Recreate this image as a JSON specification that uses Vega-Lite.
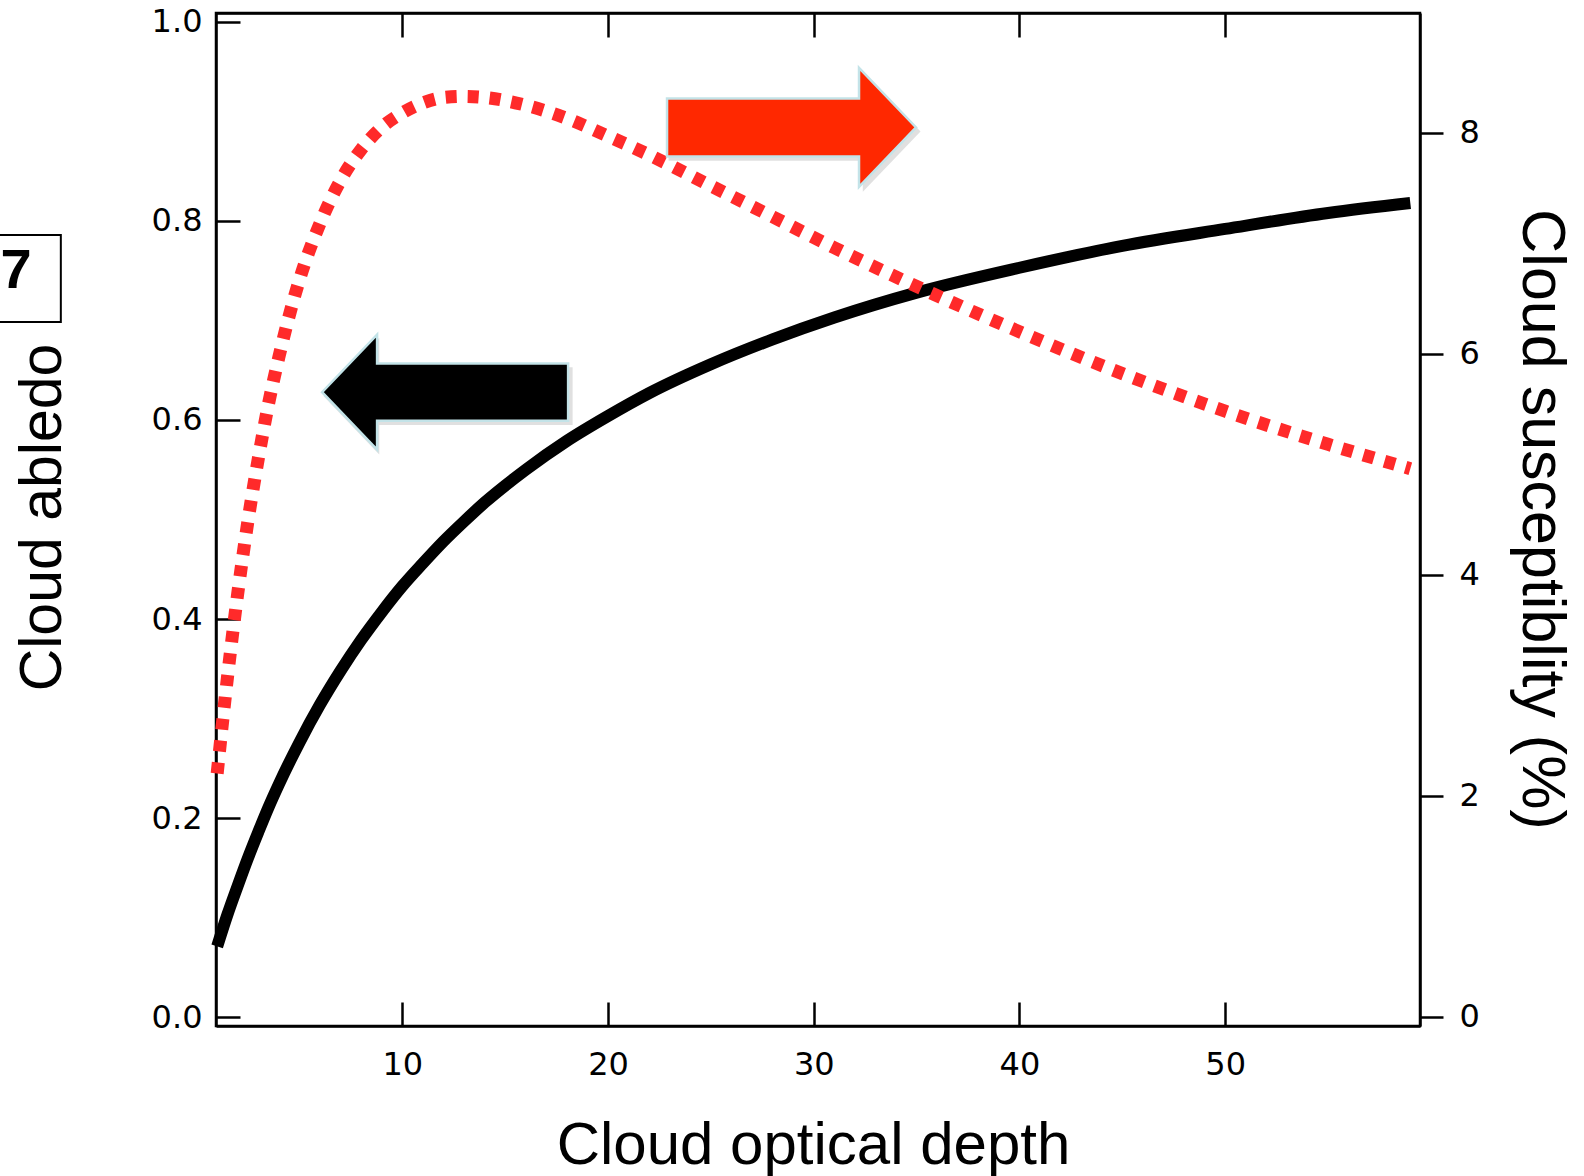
{
  "$schema": "https://vega.github.io/schema/vega-lite/v6.json",
  "width": 1204,
  "height": 1013,
  "autosize": {"type": "none"},
  "padding": {"left": 216, "top": 13, "right": 164, "bottom": 150},
  "background": "white",
  "config": {
    "view": {"stroke": "black", "strokeWidth": 2.5},
    "axis": {
      "domainColor": "black", "domainWidth": 2.5,
      "tickColor": "black", "tickWidth": 2.5,
      "grid": false,
      "labelFont": "DejaVu Sans", "labelFontSize": 32, "labelColor": "black",
      "labelFlush": false, "labelOverlap": false,
      "titleFont": "Liberation Sans", "titleFontWeight": "normal", "titleColor": "black", "titleFontSize": 60
    }
  },
  "datasets": {
    "curves": [
      {"tau": 1, "albedo": 0.071, "susceptibility": 2.20},
      {"tau": 1.5, "albedo": 0.103, "susceptibility": 3.07},
      {"tau": 2, "albedo": 0.132, "susceptibility": 3.83},
      {"tau": 2.5, "albedo": 0.160, "susceptibility": 4.49},
      {"tau": 3, "albedo": 0.186, "susceptibility": 5.05},
      {"tau": 3.5, "albedo": 0.211, "susceptibility": 5.55},
      {"tau": 4, "albedo": 0.234, "susceptibility": 5.97},
      {"tau": 5, "albedo": 0.276, "susceptibility": 6.67},
      {"tau": 6, "albedo": 0.314, "susceptibility": 7.18},
      {"tau": 7, "albedo": 0.348, "susceptibility": 7.57},
      {"tau": 8, "albedo": 0.379, "susceptibility": 7.85},
      {"tau": 9, "albedo": 0.407, "susceptibility": 8.05},
      {"tau": 10, "albedo": 0.433, "susceptibility": 8.18},
      {"tau": 11, "albedo": 0.456, "susceptibility": 8.27},
      {"tau": 12, "albedo": 0.478, "susceptibility": 8.32},
      {"tau": 13, "albedo": 0.498, "susceptibility": 8.33},
      {"tau": 14, "albedo": 0.517, "susceptibility": 8.32},
      {"tau": 16, "albedo": 0.550, "susceptibility": 8.25},
      {"tau": 18, "albedo": 0.579, "susceptibility": 8.13},
      {"tau": 20, "albedo": 0.604, "susceptibility": 7.97},
      {"tau": 22, "albedo": 0.627, "susceptibility": 7.80},
      {"tau": 25, "albedo": 0.656, "susceptibility": 7.52},
      {"tau": 28, "albedo": 0.681, "susceptibility": 7.24},
      {"tau": 31, "albedo": 0.703, "susceptibility": 6.96},
      {"tau": 35, "albedo": 0.728, "susceptibility": 6.61},
      {"tau": 40, "albedo": 0.753, "susceptibility": 6.20},
      {"tau": 45, "albedo": 0.775, "susceptibility": 5.82},
      {"tau": 50, "albedo": 0.792, "susceptibility": 5.48},
      {"tau": 55, "albedo": 0.808, "susceptibility": 5.18},
      {"tau": 59, "albedo": 0.818, "susceptibility": 4.96}
    ],
    "arrows": [
      {"name": "left", "x": 12.08, "y": 0.628},
      {"name": "right", "x": 28.92, "y": 0.894}
    ],
    "panel": [
      {"label": "7", "x": -9.8, "x2": -6.6, "y": 0.786, "y2": 0.6985, "tx": -9.53, "ty": 0.7327}
    ]
  },
  "layer": [
    {
      "data": {"name": "curves"},
      "mark": {"type": "line", "color": "black", "strokeWidth": 12, "strokeCap": "butt", "interpolate": "monotone"},
      "encoding": {
        "x": {"field": "tau", "type": "quantitative",
          "scale": {"domain": [0.943, 59.47], "zero": false, "nice": false},
          "axis": {"orient": "bottom", "values": [10, 20, 30, 40, 50], "tickSize": -24, "labelPadding": 72, "labelBaseline": "alphabetic",
            "title": "Cloud optical depth", "titleX": 597, "titleY": 137, "titleBaseline": "alphabetic", "titleAlign": "center", "titleAngle": 0}},
        "y": {"field": "albedo", "type": "quantitative",
          "scale": {"domain": [-0.009, 1.009], "zero": false, "nice": false},
          "axis": {"orient": "left", "values": [0, 0.2, 0.4, 0.6, 0.8, 1.0], "format": ".1f", "tickSize": -24, "labelPadding": 38,
            "title": "Cloud abledo", "titleFontSize": 59, "titleX": -156, "titleY": 504, "titleAngle": 270, "titleBaseline": "alphabetic", "titleAlign": "center"}}
      }
    },
    {
      "data": {"name": "curves"},
      "mark": {"type": "line", "color": "#ff2a2a", "strokeWidth": 13, "strokeCap": "butt", "strokeDash": [11, 11], "interpolate": "monotone"},
      "encoding": {
        "x": {"field": "tau", "type": "quantitative", "axis": null},
        "y": {"field": "susceptibility", "type": "quantitative",
          "scale": {"domain": [-0.086, 9.085], "zero": false, "nice": false},
          "axis": {"orient": "right", "values": [0, 2, 4, 6, 8], "tickSize": 23, "labelPadding": 16,
            "title": "Cloud susceptiblity (%)", "titleFontSize": 61, "titleX": 102, "titleY": 506, "titleAngle": 90, "titleBaseline": "alphabetic", "titleAlign": "center"}}
      }
    },
    {
      "data": {"name": "arrows"},
      "transform": [{"filter": "datum.name === 'left'"}],
      "mark": {"type": "point", "filled": true, "fill": "#555555", "fillOpacity": 0.18, "strokeOpacity": 0, "size": 62000, "xOffset": 3, "yOffset": 4,
        "shape": "M 1 -0.232 L -0.553 -0.232 L -0.553 -0.468 L -1 0 L -0.553 0.468 L -0.553 0.232 L 1 0.232 Z"},
      "encoding": {
        "x": {"field": "x", "type": "quantitative",
          "axis": {"orient": "top", "values": [10, 20, 30, 40, 50], "tickSize": -24, "labels": false, "title": null}},
        "y": {"field": "y", "type": "quantitative", "scale": {"domain": [-0.009, 1.009], "zero": false, "nice": false}, "axis": null}
      }
    },
    {
      "data": {"name": "arrows"},
      "transform": [{"filter": "datum.name === 'right'"}],
      "mark": {"type": "point", "filled": true, "fill": "#555555", "fillOpacity": 0.18, "strokeOpacity": 0, "size": 63500, "xOffset": 3, "yOffset": 4,
        "shape": "M -1 -0.233 L 0.542 -0.233 L 0.542 -0.478 L 1 0 L 0.542 0.478 L 0.542 0.233 L -1 0.233 Z"},
      "encoding": {
        "x": {"field": "x", "type": "quantitative", "axis": null},
        "y": {"field": "y", "type": "quantitative", "scale": {"domain": [-0.009, 1.009], "zero": false, "nice": false}, "axis": null}
      }
    },
    {
      "data": {"name": "arrows"},
      "transform": [{"filter": "datum.name === 'left'"}],
      "mark": {"type": "point", "filled": true, "fill": "black", "fillOpacity": 1, "stroke": "#c3e3e8", "strokeWidth": 2.5, "size": 60516,
        "shape": "M 1 -0.232 L -0.553 -0.232 L -0.553 -0.468 L -1 0 L -0.553 0.468 L -0.553 0.232 L 1 0.232 Z"},
      "encoding": {
        "x": {"field": "x", "type": "quantitative", "axis": null},
        "y": {"field": "y", "type": "quantitative", "scale": {"domain": [-0.009, 1.009], "zero": false, "nice": false}, "axis": null}
      }
    },
    {
      "data": {"name": "arrows"},
      "transform": [{"filter": "datum.name === 'right'"}],
      "mark": {"type": "point", "filled": true, "fill": "#ff2800", "fillOpacity": 1, "stroke": "#c3e3e8", "strokeWidth": 2.5, "size": 62001,
        "shape": "M -1 -0.233 L 0.542 -0.233 L 0.542 -0.478 L 1 0 L 0.542 0.478 L 0.542 0.233 L -1 0.233 Z"},
      "encoding": {
        "x": {"field": "x", "type": "quantitative", "axis": null},
        "y": {"field": "y", "type": "quantitative", "scale": {"domain": [-0.009, 1.009], "zero": false, "nice": false}, "axis": null}
      }
    },
    {
      "data": {"name": "panel"},
      "mark": {"type": "rect", "fill": "white", "fillOpacity": 0, "stroke": "black", "strokeWidth": 2},
      "encoding": {
        "x": {"field": "x", "type": "quantitative", "axis": null},
        "x2": {"field": "x2"},
        "y": {"field": "y", "type": "quantitative", "scale": {"domain": [-0.009, 1.009], "zero": false, "nice": false}, "axis": null},
        "y2": {"field": "y2"}
      }
    },
    {
      "data": {"name": "panel"},
      "mark": {"type": "text", "font": "Liberation Sans", "fontWeight": "bold", "fontSize": 56, "align": "left", "baseline": "alphabetic", "color": "black"},
      "encoding": {
        "x": {"field": "tx", "type": "quantitative", "axis": null},
        "y": {"field": "ty", "type": "quantitative", "scale": {"domain": [-0.009, 1.009], "zero": false, "nice": false}, "axis": null},
        "text": {"field": "label"}
      }
    }
  ],
  "resolve": {"scale": {"y": "independent"}, "axis": {"x": "independent"}}
}
